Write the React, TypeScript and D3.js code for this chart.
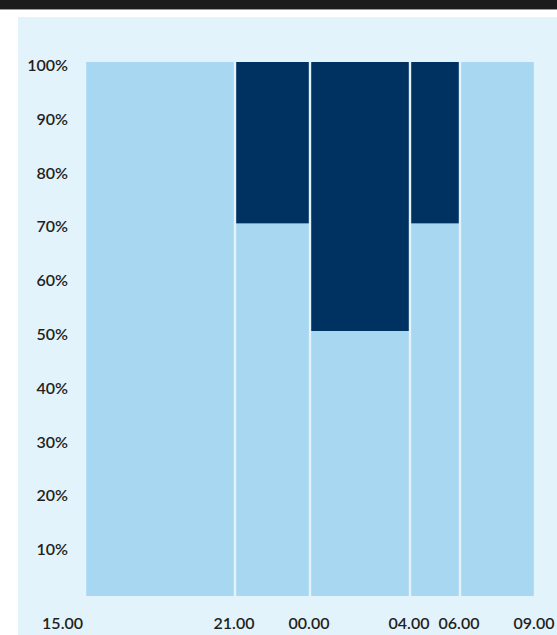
import React from "react";
import * as d3 from "d3";

// Time boundaries (hours after 15.00) and their labels
const timeLabels = ["15.00", "21.00", "00.00", "04.00", "06.00", "09.00"];
const timeOffsets = [0, 6, 9, 13, 15, 18];

// Share per interval (percent), light bottom part and dark top part
const lightShare = [100, 70, 50, 70, 100];
const darkShare = [0, 30, 50, 30, 0];

const yTicks = [10, 20, 30, 40, 50, 60, 70, 80, 90, 100];

const width = 557;
const height = 635;
const lightColor = "#a8d8f1";
const darkColor = "#003261";
const panelColor = "#e3f3fc";
const textColor = "#231f20";
const font = "Lato, 'Open Sans', sans-serif";

export default function App() {
  const x = d3.scaleLinear().domain([0, 18]).range([85, 535]);
  const y = d3.scaleLinear().domain([0, 100]).range([600, 62]);
  const baseline = y(0) - 4;
  const gap = 1.2;

  const intervals = lightShare.map((l, i) => ({
    x0: x(timeOffsets[i]) + gap,
    x1: x(timeOffsets[i + 1]) - gap,
    light: l,
    dark: darkShare[i],
  }));

  return (
    <svg
      width={width}
      height={height}
      style={{ position: "absolute", top: 0, left: 0, display: "block" }}
    >
      <rect x={0} y={0} width={width} height={height} fill="#ffffff" />
      <rect x={0} y={0} width={width} height={9} fill="#1b1b1b" />
      <rect x={0} y={9} width={width} height={1} fill="#9a9a9a" />
      <rect x={18} y={17} width={width - 18} height={height - 17} fill={panelColor} />

      {intervals.map((d, i) => (
        <g key={i}>
          <rect
            x={d.x0}
            y={y(d.light)}
            width={d.x1 - d.x0}
            height={baseline - y(d.light)}
            fill={lightColor}
          />
          {d.dark > 0 && (
            <rect
              x={d.x0}
              y={y(d.light + d.dark)}
              width={d.x1 - d.x0}
              height={y(d.light) - y(d.light + d.dark)}
              fill={darkColor}
            />
          )}
        </g>
      ))}

      {yTicks.map((t) => (
        <text
          key={t}
          x={68}
          y={y(t) + 9}
          textAnchor="end"
          fontFamily={font}
          fontWeight={600}
          fontSize={16}
          fill={textColor}
        >
          {`${t}%`}
        </text>
      ))}

      {timeLabels.map((lab, i) => (
        <text
          key={lab}
          x={i === 0 ? x(timeOffsets[i]) - 2 : x(timeOffsets[i]) - 1}
          y={629}
          textAnchor={i === 0 ? "end" : "middle"}
          fontFamily={font}
          fontWeight={600}
          fontSize={16}
          fill={textColor}
        >
          {lab}
        </text>
      ))}
    </svg>
  );
}
